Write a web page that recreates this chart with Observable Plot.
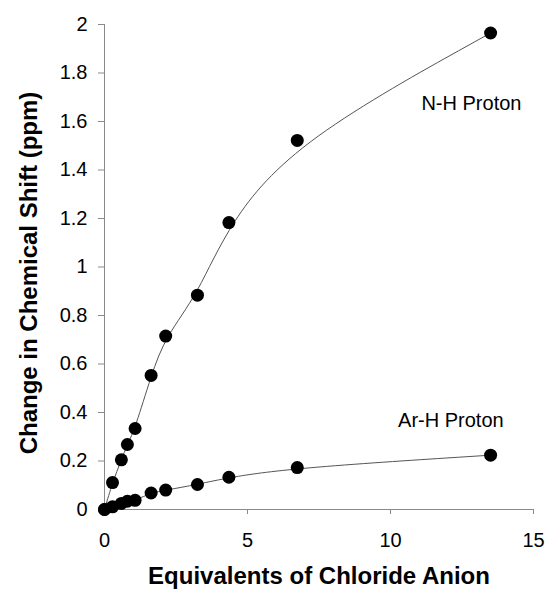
<!DOCTYPE html>
<html>
<head>
<meta charset="utf-8">
<script src="https://cdn.jsdelivr.net/npm/d3@7"></script>
<script src="https://cdn.jsdelivr.net/npm/@observablehq/plot@0.6"></script>
<style>
  html, body { margin: 0; padding: 0; background: #fff; }
  #chart svg { display: block; }
</style>
</head>
<body>
<div id="chart"></div>
<script>
// Equivalents of chloride anion added
const equivalents = [0, 0.28, 0.59, 0.8, 1.07, 1.63, 2.14, 3.25, 4.35, 6.74, 13.5];
// Change in chemical shift (ppm)
const nhShift  = [0, 0.111, 0.205, 0.268, 0.334, 0.553, 0.715, 0.884, 1.183, 1.522, 1.965];
const arhShift = [0, 0.011, 0.025, 0.034, 0.038, 0.068, 0.080, 0.103, 0.133, 0.173, 0.224];

const seriesNames = ["N-H Proton", "Ar-H Proton"];
const labelX = [12.83, 12.11];
const labelY = [1.673, 0.367];

const xTicks = [0, 5, 10, 15];
const yTicks = [0, 0.2, 0.4, 0.6, 0.8, 1, 1.2, 1.4, 1.6, 1.8, 2];

const xTitle = "Equivalents of Chloride Anion";
const yTitle = "Change in Chemical Shift (ppm)";

const nh = equivalents.map((x, i) => ({x, y: nhShift[i]}));
const arh = equivalents.map((x, i) => ({x, y: arhShift[i]}));
const labels = seriesNames.map((t, i) => ({t, x: labelX[i], y: labelY[i]}));

const axisColor = "#8a8a8a";
const lineColor = "#555";

const chart = Plot.plot({
  width: 547,
  height: 590,
  marginLeft: 104,
  marginRight: 14,
  marginTop: 24,
  marginBottom: 81,
  style: {fontFamily: "'Liberation Sans', Arial, sans-serif", fontSize: "20px", color: "black", background: "white"},
  x: {domain: [0, 15]},
  y: {domain: [0, 2]},
  marks: [
    Plot.axisY({ticks: yTicks, tickSize: 6, tickPadding: 11, tickFormat: d => String(d), label: null, stroke: axisColor, fill: "black"}),
    Plot.axisX({ticks: xTicks, tickSize: 5, tickPadding: 18, tickFormat: d => String(d), label: null, stroke: axisColor, fill: "black"}),
    Plot.ruleX([0], {y1: 0, y2: 2, stroke: axisColor}),
    Plot.ruleY([0], {x1: 0, x2: 15, stroke: axisColor}),
    Plot.line(nh, {x: "x", y: "y", curve: "basis", stroke: lineColor, strokeWidth: 1}),
    Plot.line(arh, {x: "x", y: "y", curve: "basis", stroke: lineColor, strokeWidth: 1}),
    Plot.dot(nh, {x: "x", y: "y", r: 6.5, fill: "black"}),
    Plot.dot(arh, {x: "x", y: "y", r: 6.5, fill: "black"}),
    Plot.text(labels, {x: "x", y: "y", text: "t", fontSize: 20, fill: "black", textAnchor: "middle", lineAnchor: "middle"}),
    Plot.text([xTitle], {frameAnchor: "bottom", dy: 67, fontSize: 24, fontWeight: "bold", fill: "black", textAnchor: "middle", lineAnchor: "middle"}),
    Plot.text([yTitle], {frameAnchor: "left", dx: -75, dy: 6, rotate: -90, fontSize: 24, fontWeight: "bold", fill: "black", textAnchor: "middle", lineAnchor: "middle"})
  ]
});

document.getElementById("chart").appendChild(chart);
</script>
</body>
</html>
